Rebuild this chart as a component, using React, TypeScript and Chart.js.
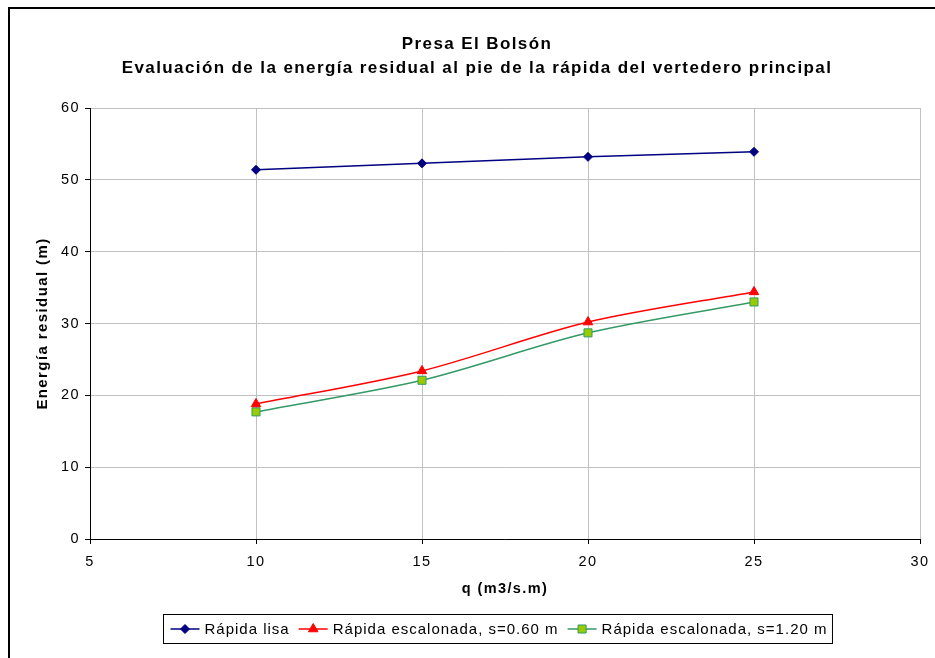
import React, { useEffect, useRef } from 'react';
import { Chart, registerables } from 'chart.js';

Chart.register(...registerables);

// ---- data ----
const qValues = [10, 15, 20, 25];
const rapidaLisa = [51.4, 52.3, 53.2, 53.9];
const escalonada060 = [18.8, 23.4, 30.2, 34.4];
const escalonada120 = [17.7, 22.1, 28.7, 33.0];
const seriesNames = ['Rápida lisa', 'Rápida escalonada, s=0.60 m', 'Rápida escalonada, s=1.20 m'];
const titleLines = ['Presa El Bolsón', 'Evaluación de la energía residual al pie de la rápida del vertedero principal'];
const xAxisTitle = 'q (m3/s.m)';
const yAxisTitle = 'Energía residual (m)';
const xTickValues = [5, 10, 15, 20, 25, 30];
const yTickValues = [0, 10, 20, 30, 40, 50, 60];

const FONT = '"Liberation Sans", Arial, Helvetica, sans-serif';
const LS = '1.4px';

function drawMarker(ctx: CanvasRenderingContext2D, style: string, x: number, y: number, r: number, fill: string, stroke: string, bw: number) {
  ctx.beginPath();
  if (style === 'rectRot') {
    ctx.moveTo(x - r, y);
    ctx.lineTo(x, y - r);
    ctx.lineTo(x + r, y);
    ctx.lineTo(x, y + r);
  } else if (style === 'triangle') {
    const a = (2 * Math.PI) / 3;
    ctx.moveTo(x, y - r);
    ctx.lineTo(x + Math.sin(a) * r, y - Math.cos(a) * r);
    ctx.lineTo(x + Math.sin(2 * a) * r, y - Math.cos(2 * a) * r);
  } else {
    const s = Math.SQRT1_2 * r;
    ctx.rect(x - s, y - s, 2 * s, 2 * s);
  }
  ctx.closePath();
  ctx.fillStyle = fill;
  ctx.fill();
  ctx.strokeStyle = stroke;
  ctx.lineWidth = bw;
  ctx.stroke();
}

const spacingPlugin = {
  id: 'letterSpacing',
  beforeUpdate(chart: any) {
    (chart.ctx as any).letterSpacing = LS;
  },
  beforeDraw(chart: any) {
    (chart.ctx as any).letterSpacing = LS;
  },
};

const legendPlugin = {
  id: 'boxLegend',
  afterDraw(chart: any) {
    const ctx: CanvasRenderingContext2D = chart.ctx;
    ctx.save();
    (ctx as any).letterSpacing = '1px';
    ctx.font = `15px ${FONT}`;
    const lineLen = 29;
    const gapText = 5;
    const gapItem = 9;
    const padL = 7;
    const padR = 5;
    const datasets = chart.data.datasets;
    const widths = datasets.map((d: any) => ctx.measureText(d.label).width);
    let total = padL + padR;
    widths.forEach((w: number, i: number) => {
      total += lineLen + gapText + w + (i < widths.length - 1 ? gapItem : 0);
    });
    const cx = 487;
    const top = 605.5;
    const h = 29;
    const left = Math.round(cx - total / 2) + 0.5;
    ctx.fillStyle = '#ffffff';
    ctx.fillRect(left, top, total, h);
    ctx.strokeStyle = '#000000';
    ctx.lineWidth = 1;
    ctx.strokeRect(left, top, total, h);
    let x = left + padL;
    const cy = top + h / 2;
    datasets.forEach((ds: any, i: number) => {
      ctx.strokeStyle = ds.borderColor;
      ctx.lineWidth = ds.borderWidth;
      ctx.beginPath();
      ctx.moveTo(x, cy);
      ctx.lineTo(x + lineLen, cy);
      ctx.stroke();
      drawMarker(ctx, ds.pointStyle, x + lineLen / 2, cy, ds.pointRadius, ds.pointBackgroundColor, ds.pointBorderColor, ds.pointBorderWidth);
      ctx.fillStyle = '#000000';
      ctx.textBaseline = 'middle';
      ctx.textAlign = 'left';
      ctx.fillText(ds.label, x + lineLen + gapText, cy + 1);
      x += lineLen + gapText + widths[i] + gapItem;
    });
    ctx.restore();
  },
};

export default function App() {
  const canvasRef = useRef<HTMLCanvasElement | null>(null);

  useEffect(() => {
    document.documentElement.style.overflow = 'hidden';
    if (!canvasRef.current) return;
    Chart.defaults.font.family = FONT;
    Chart.defaults.color = '#000000';
    const toPts = (ys: number[]) => qValues.map((q, i) => ({ x: q, y: ys[i] }));
    const chart = new Chart(canvasRef.current, {
      type: 'line',
      data: {
        datasets: [
          {
            label: seriesNames[0],
            data: toPts(rapidaLisa),
            borderColor: '#000080',
            backgroundColor: '#000080',
            borderWidth: 1.5,
            pointStyle: 'rectRot',
            pointRadius: 4.5,
            pointBackgroundColor: '#000080',
            pointBorderColor: '#000080',
            pointBorderWidth: 1,
            tension: 0.3,
          },
          {
            label: seriesNames[1],
            data: toPts(escalonada060),
            borderColor: '#ff0000',
            backgroundColor: '#ff0000',
            borderWidth: 1.5,
            pointStyle: 'triangle',
            pointRadius: 5.5,
            pointBackgroundColor: '#ff0000',
            pointBorderColor: '#ff0000',
            pointBorderWidth: 1,
            tension: 0.3,
          },
          {
            label: seriesNames[2],
            data: toPts(escalonada120),
            borderColor: '#339966',
            backgroundColor: '#99cc00',
            borderWidth: 1.5,
            pointStyle: 'rect',
            pointRadius: 5.7,
            pointBackgroundColor: '#99cc00',
            pointBorderColor: '#339966',
            pointBorderWidth: 1,
            tension: 0.3,
          },
        ] as any,
      },
      options: {
        animation: false,
        responsive: false,
        maintainAspectRatio: false,
        events: [],
        layout: { padding: { left: 24, right: 24, top: 0, bottom: 49 } },
        plugins: {
          legend: { display: false },
          tooltip: { enabled: false },
          title: {
            display: true,
            text: titleLines,
            color: '#000000',
            font: { size: 17, weight: 'bold', lineHeight: 1.43, family: FONT },
            padding: { top: 23, bottom: 27.4 },
          },
        },
        scales: {
          x: {
            type: 'linear',
            min: xTickValues[0],
            max: xTickValues[xTickValues.length - 1],
            afterFit: (s: any) => {
              s.height = 70;
            },
            ticks: {
              stepSize: xTickValues[1] - xTickValues[0],
              font: { size: 14.5, family: FONT },
              color: '#000000',
              padding: 9,
              maxRotation: 0,
            },
            grid: { color: '#c0c0c0', tickColor: '#000000', tickLength: 5, lineWidth: 1 },
            border: { display: true, color: '#000000', width: 1 },
            title: {
              display: true,
              text: xAxisTitle,
              color: '#000000',
              font: { size: 14.5, weight: 'bold', family: FONT },
              padding: { top: 0, bottom: 11.3 },
            },
          },
          y: {
            type: 'linear',
            min: yTickValues[0],
            max: yTickValues[yTickValues.length - 1],
            afterFit: (s: any) => {
              s.width = 56;
            },
            ticks: {
              stepSize: yTickValues[1] - yTickValues[0],
              font: { size: 14.5, family: FONT },
              color: '#000000',
              padding: 5,
            },
            grid: { color: '#c0c0c0', tickColor: '#000000', tickLength: 5, lineWidth: 1 },
            border: { display: true, color: '#000000', width: 1 },
            title: {
              display: true,
              text: yAxisTitle,
              color: '#000000',
              font: { size: 15, weight: 'bold', family: FONT },
              padding: { top: 0, bottom: 0 },
            },
          },
        },
      } as any,
      plugins: [spacingPlugin, legendPlugin] as any,
    });
    return () => chart.destroy();
  }, []);

  return (
    <div
      style={{
        position: 'fixed',
        left: 8,
        top: 7,
        width: 935,
        height: 651,
        borderLeft: '2px solid #000',
        borderTop: '2px solid #000',
        boxSizing: 'border-box',
        overflow: 'hidden',
        background: '#fff',
      }}
    >
      <canvas
        ref={canvasRef}
        width={934}
        height={649}
        style={{ display: 'block', width: '934px', height: '649px' }}
      />
    </div>
  );
}
